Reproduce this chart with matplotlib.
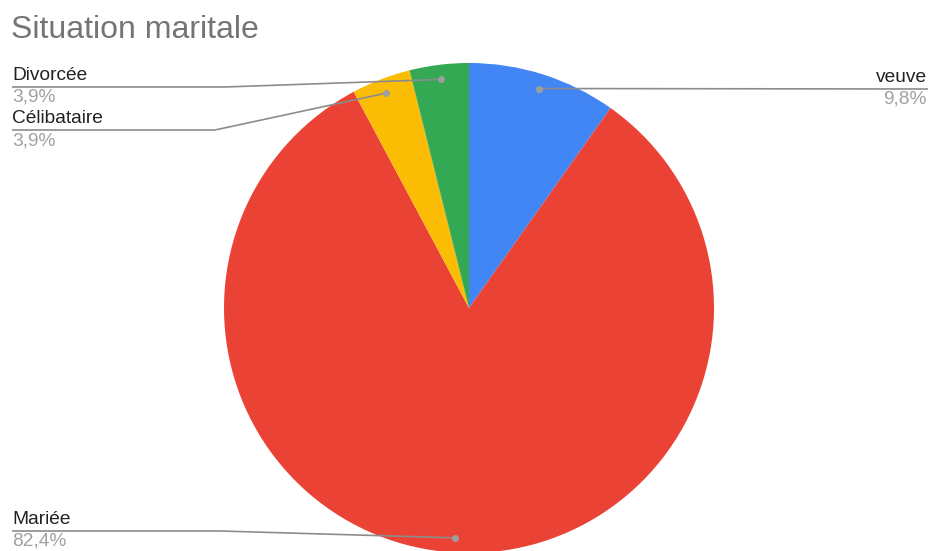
import numpy as np
import matplotlib
matplotlib.use("Agg")
import matplotlib.pyplot as plt

plt.rcParams['font.family'] = ['Liberation Sans', 'DejaVu Sans']

# parts of the pie, clockwise from 12 o'clock
labels = ['veuve', 'Mariée', 'Célibataire', 'Divorcée']
shares = [9.8, 82.4, 3.9, 3.9]
pct_text = ['9,8%', '82,4%', '3,9%', '3,9%']
colors = ['#4285f4', '#ea4335', '#fbbc04', '#34a853']

W, H = 930, 551
fig = plt.figure(figsize=(W / 100, H / 100), dpi=100)
ax = fig.add_axes([0, 0, 1, 1])

cx, cy, R = 469, H - 308, 245
ax.pie(shares, colors=colors, startangle=90, counterclock=False,
       center=(cx, cy), radius=R, frame=True,
       wedgeprops=dict(linewidth=0))
ax.set_xlim(0, W)
ax.set_ylim(0, H)
ax.set_aspect('equal')
ax.axis('off')

# middle angle of every wedge (degrees, matplotlib convention)
ends = 90 - np.cumsum(shares) * 3.6
mids = ends + np.array(shares) * 3.6 / 2

# label layout: (side, y of underline in px from top, elbow x)
layout = {
    'veuve': ('right', 89, None),
    'Mariée': ('left', 531, 220),
    'Célibataire': ('left', 130, 215),
    'Divorcée': ('left', 87, 225),
}

line_c = '#8c8c8c'
for lab, pct, ang in zip(labels, pct_text, mids):
    a = np.deg2rad(ang)
    px, py = cx + 0.94 * R * np.cos(a), cy + 0.94 * R * np.sin(a)
    side, ly, elbow = layout[lab]
    ly = H - ly
    if side == 'right':
        xs, ys = [px, 928], [py, ly]
        tx, ha = 927, 'right'
    else:
        xs, ys = [px, elbow, 12], [py, ly, ly]
        tx, ha = 12, 'left'
    ax.plot(xs, ys, color=line_c, lw=1.2, solid_capstyle='butt', zorder=3)
    ax.plot(px, py, 'o', color='#9e9e9e', ms=4, zorder=4)
    ax.text(tx, ly + 3, lab, ha=ha, va='bottom', fontsize=13.8, color='#222222')
    ax.text(tx, ly - 2, pct, ha=ha, va='top', fontsize=13.8, color='#a0a0a0')

fig.text(11 / W, 1 - 30 / H, 'Situation maritale', ha='left', va='center',
         fontsize=23, color='#757575')

fig.savefig('out.png', dpi=100)
